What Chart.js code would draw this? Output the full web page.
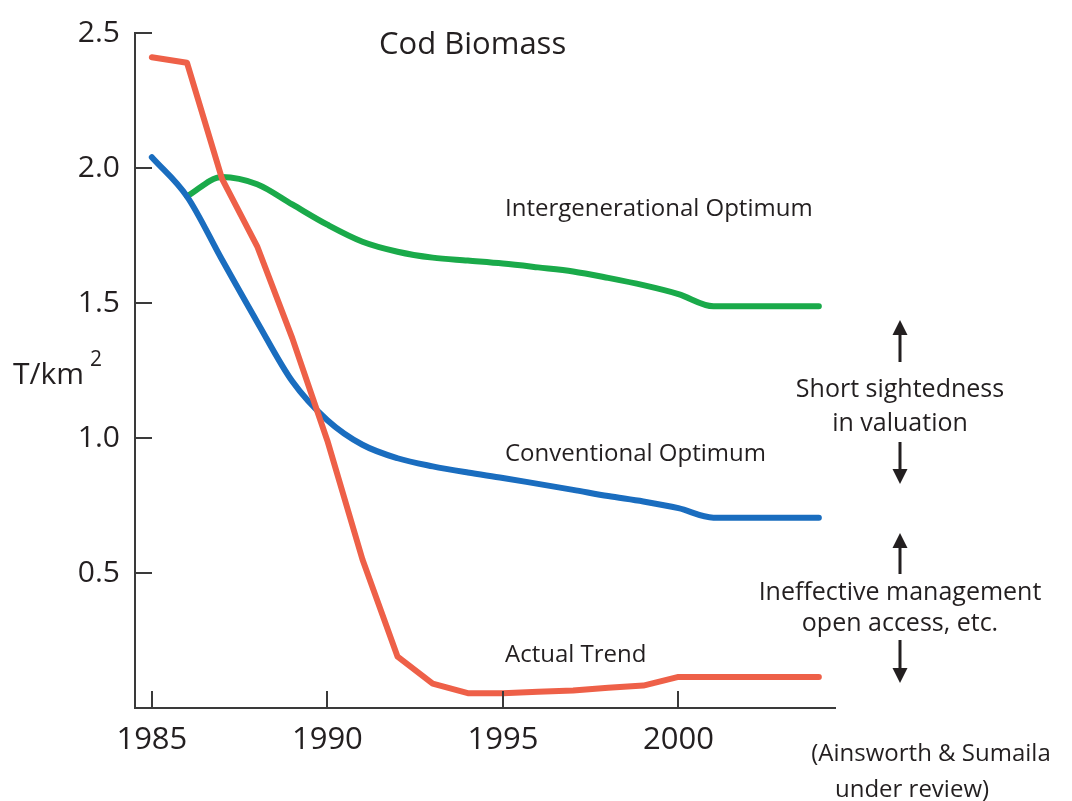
<!DOCTYPE html>
<html>
<head>
<meta charset="utf-8">
<script src="https://cdn.jsdelivr.net/npm/chart.js@4.4.1/dist/chart.umd.min.js"></script>
<style>
  html, body { margin: 0; padding: 0; background: #fff; }
  #wrap { width: 1072px; height: 801px; }
</style>
</head>
<body>
<div id="wrap"><canvas id="chart" width="1072" height="801"></canvas></div>
<script>
// Données (T/km², 1985-2004)
const years = [1985, 1986, 1987, 1988, 1989, 1990, 1991, 1992, 1993, 1994,
               1995, 1996, 1997, 1998, 1999, 2000, 2001, 2002, 2003, 2004];
const actualTrend = [2.41, 2.39, 1.96, 1.71, 1.37, 0.99, 0.55, 0.19, 0.09, 0.055,
                     0.055, 0.06, 0.065, 0.075, 0.083, 0.115, 0.115, 0.115, 0.115, 0.115];
const conventionalOptimum = [2.04, 1.895, 1.66, 1.43, 1.21, 1.066, 0.975, 0.925, 0.895, 0.872,
                             0.852, 0.83, 0.808, 0.785, 0.765, 0.74, 0.705, 0.705, 0.705, 0.705];
const intergenerationalOptimum = [null, 1.895, 1.967, 1.94, 1.865, 1.79, 1.727, 1.69, 1.668, 1.657,
                                  1.646, 1.632, 1.617, 1.593, 1.566, 1.533, 1.488, 1.488, 1.488, 1.488];
const xTicks = [1985, 1990, 1995, 2000];
const yTicks = [0.5, 1.0, 1.5, 2.0, 2.5];

const ink = '#231f20';
const axisColor = '#3a3a3a';
const FONT = '"Open Sans", "DejaVu Sans", sans-serif';
Chart.defaults.font.family = FONT;
Chart.defaults.color = ink;

function points(vals) {
  return years.map((yr, i) => ({ x: yr, y: vals[i] }));
}

// petites graduations tournées vers l'intérieur
const innerTicks = {
  id: 'innerTicks',
  afterDatasetsDraw(chart) {
    const { ctx, chartArea: a, scales } = chart;
    ctx.save();
    ctx.strokeStyle = axisColor;
    ctx.lineWidth = 2;
    ctx.beginPath();
    yTicks.forEach(v => {
      const py = Math.round(scales.y.getPixelForValue(v));
      ctx.moveTo(a.left, py);
      ctx.lineTo(a.left + 17, py);
    });
    xTicks.forEach(v => {
      const px = Math.round(scales.x.getPixelForValue(v));
      ctx.moveTo(px, a.bottom);
      ctx.lineTo(px, a.bottom - 17);
    });
    ctx.stroke();
    ctx.restore();
  }
};

function arrow(ctx, x, yTail, yTip) {
  const dir = yTip < yTail ? -1 : 1;
  const head = 15;
  ctx.beginPath();
  ctx.moveTo(x, yTail);
  ctx.lineTo(x, yTip - dir * head);
  ctx.stroke();
  ctx.beginPath();
  ctx.moveTo(x, yTip);
  ctx.lineTo(x - 7.5, yTip - dir * head);
  ctx.lineTo(x + 7.5, yTip - dir * head);
  ctx.closePath();
  ctx.fill();
}

// textes et flèches d'annotation
const annotations = {
  id: 'annotations',
  afterDraw(chart) {
    const ctx = chart.ctx;
    ctx.save();
    ctx.fillStyle = ink;
    ctx.strokeStyle = ink;
    ctx.lineWidth = 3;
    ctx.textBaseline = 'alphabetic';

    ctx.textAlign = 'left';
    ctx.font = '31px ' + FONT;
    ctx.fillText('Cod Biomass', 379, 54);

    ctx.font = '24px ' + FONT;
    ctx.fillText('Intergenerational Optimum', 505, 216);
    ctx.fillText('Conventional Optimum', 505, 461);
    ctx.fillText('Actual Trend', 505, 662);

    // unité de l'axe y
    ctx.font = '30px ' + FONT;
    ctx.fillText('T/km', 13, 384);
    const w = ctx.measureText('T/km').width;
    ctx.font = '21px ' + FONT;
    ctx.fillText('2', 13 + w + 6, 366);

    ctx.textAlign = 'center';
    ctx.font = '25px ' + FONT;
    ctx.fillText('Short sightedness', 900, 397);
    ctx.fillText('in valuation', 900, 431);
    ctx.fillText('Ineffective management', 900, 600);
    ctx.fillText('open access, etc.', 900, 631);
    ctx.font = '24px ' + FONT;
    ctx.fillText('(Ainsworth & Sumaila', 931, 761);
    ctx.fillText('under review)', 912, 797);

    arrow(ctx, 900, 362, 320);
    arrow(ctx, 900, 442, 484);
    arrow(ctx, 900, 574, 533);
    arrow(ctx, 900, 640, 683);
    ctx.restore();
  }
};

const lineStyle = {
  pointRadius: 0,
  borderWidth: 6,
  borderCapStyle: 'round',
  borderJoinStyle: 'round',
  fill: false
};

new Chart(document.getElementById('chart'), {
  type: 'line',
  data: {
    datasets: [
      { ...lineStyle, label: 'Actual Trend', data: points(actualTrend),
        borderColor: '#ee6048', tension: 0 },
      { ...lineStyle, label: 'Conventional Optimum', data: points(conventionalOptimum),
        borderColor: '#1a6dbf', cubicInterpolationMode: 'monotone' },
      { ...lineStyle, label: 'Intergenerational Optimum', data: points(intergenerationalOptimum),
        borderColor: '#1aaa4a', cubicInterpolationMode: 'monotone' }
    ]
  },
  options: {
    responsive: false,
    devicePixelRatio: 1,
    animation: false,
    layout: { padding: { left: 0, right: 237, top: 24, bottom: 0 } },
    plugins: {
      legend: { display: false },
      tooltip: { enabled: false }
    },
    scales: {
      x: {
        type: 'linear',
        min: 1984.52,
        max: 2004.46,
        afterBuildTicks: s => { s.ticks = xTicks.map(v => ({ value: v })); },
        afterFit: s => { s.height = 93; },
        grid: { display: true, drawOnChartArea: false, drawTicks: false },
        border: { display: true, color: axisColor, width: 2 },
        ticks: {
          padding: 14,
          maxRotation: 0,
          autoSkip: false,
          color: ink,
          font: { size: 31 },
          callback: v => String(v)
        }
      },
      y: {
        min: 0,
        max: 2.5,
        afterBuildTicks: s => { s.ticks = yTicks.map(v => ({ value: v })); },
        afterFit: s => { s.width = 135; },
        grid: { display: true, drawOnChartArea: false, drawTicks: false },
        border: { display: true, color: axisColor, width: 2 },
        ticks: {
          padding: 15,
          color: ink,
          font: { size: 30 },
          callback: v => v.toFixed(1)
        }
      }
    }
  },
  plugins: [innerTicks, annotations]
});
</script>
</body>
</html>
